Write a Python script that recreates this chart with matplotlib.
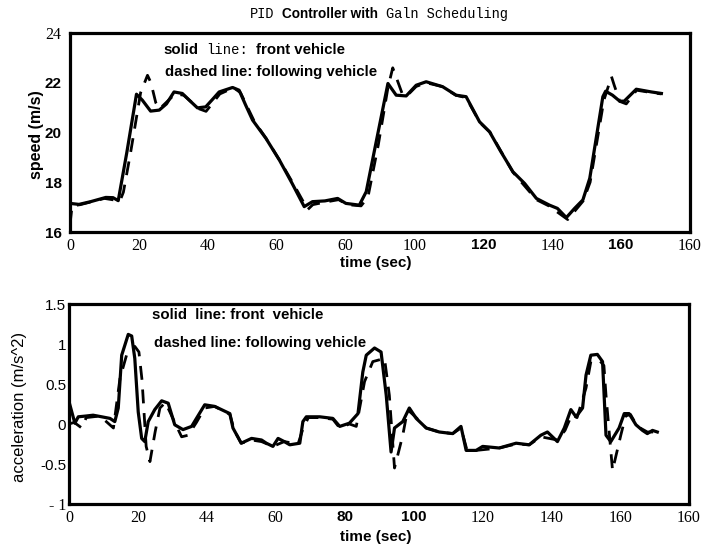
import matplotlib
matplotlib.use("Agg")
import matplotlib.pyplot as plt

# speed, front vehicle (solid)
t_front = [0, 2.6, 6, 10.4, 12.5, 14.0, 16.5, 19.3, 21, 23.4,
           25.9, 28, 30.2, 32.6, 35, 37.0, 39.4, 41.5, 43.3, 47.2,
           49.1, 51, 53.0, 56.9, 60.8, 64.5, 68.0, 70.4, 74, 77.7,
           80.1, 84.0, 86.0, 88.9, 92.3, 94.7, 97.6, 100.5, 103.4, 108.2,
           112.1, 115.0, 118.9, 121.8, 125, 128.6, 132, 135.4, 139.2, 141.5,
           144.1, 146.5, 148.9, 150.9, 154.7, 155.5, 157.5, 159.6, 160.9, 164.4,
           168.8, 171.7]
v_front = [17.15, 17.11, 17.22, 17.39, 17.38, 17.26, 19.2, 21.54, 21.3, 20.86,
           20.9, 21.15, 21.63, 21.57, 21.25, 20.99, 21.03, 21.35, 21.63, 21.81,
           21.70, 21.1, 20.50, 19.76, 18.89, 17.95, 17.02, 17.22, 17.25, 17.35,
           17.15, 17.08, 17.62, 19.63, 21.97, 21.5, 21.47, 21.90, 22.04, 21.84,
           21.50, 21.44, 20.43, 20.03, 19.25, 18.42, 17.95, 17.35, 17.08, 16.95,
           16.58, 16.95, 17.29, 18.16, 21.44, 21.66, 21.5, 21.26, 21.26, 21.74,
           21.63, 21.57]

# speed, following vehicle (dashed)
t_follow = [0, 0.6, 3, 10, 14.5, 15.5, 17.6, 20.5, 22.5, 23.5,
            24.9, 26, 30.5, 33, 37.5, 39.5, 43.5, 47.5, 49.5, 53.5,
            57, 61, 65, 69, 70.5, 74, 78, 80.5, 84.5, 86.5,
            89.5, 92.3, 93.7, 94.5, 96.6, 98, 100.5, 103.4, 108, 112,
            115, 119, 122, 128.6, 135.4, 139, 144.5, 149, 151, 155,
            157.2, 158, 159.6, 161.5, 164.5, 169, 171.7]
v_follow = [16.3, 17.05, 17.1, 17.35, 17.25, 17.6, 19.2, 21.6, 22.3, 22.0,
            21.2, 20.95, 21.55, 21.5, 20.95, 20.85, 21.55, 21.8, 21.6, 20.45,
            19.75, 18.85, 17.9, 16.9, 17.1, 17.2, 17.3, 17.1, 17.05, 17.4,
            19.5, 21.8, 22.6, 22.3, 21.5, 21.5, 21.85, 22.0, 21.85, 21.5,
            21.4, 20.4, 20.0, 18.4, 17.3, 17.05, 16.5, 17.25, 18.0, 21.3,
            22.25, 21.9, 21.25, 21.15, 21.7, 21.6, 21.55]

# acceleration, front vehicle (solid)
t_acc = [0, 1.7, 2.7, 5, 7.0, 9.5, 11.9, 13.3, 14.3, 15.3,
         17.2, 18.2, 19.1, 20.1, 21.1, 22.0, 23.0, 24.9, 26.9, 28.8,
         30.7, 33.1, 35.6, 37.0, 39.4, 42.3, 46.7, 47.6, 50.0, 53.0,
         55.9, 57.3, 59.2, 60.7, 62.5, 64.1, 67.0, 67.9, 68.9, 72.8,
         76.6, 78.6, 81.4, 83.9, 85.3, 86.3, 88.7, 90.6, 92.1, 93.5,
         94.5, 96.9, 98.8, 100.8, 103.7, 107.5, 111.4, 113.8, 115.3, 118.2,
         120.1, 124.9, 129.8, 133.6, 137.0, 138.9, 141.8, 143.8, 145.7, 147.2,
         149.1, 150.1, 151.5, 153.4, 154.9, 155.9, 157.3, 159.7, 161.2, 162.6,
         164.6, 166.5, 167.9, 169.4, 170.8]
a_front = [0.28, 0.01, 0.09, 0.10, 0.11, 0.09, 0.07, 0.03, 0.20, 0.86,
           1.12, 1.10, 0.82, 0.15, -0.18, -0.22, 0.03, 0.18, 0.29, 0.26,
           -0.01, -0.07, -0.03, 0.07, 0.24, 0.22, 0.13, -0.05, -0.24, -0.18,
           -0.20, -0.24, -0.28, -0.18, -0.22, -0.26, -0.24, 0.03, 0.09, 0.09,
           0.07, -0.03, 0.01, 0.13, 0.65, 0.86, 0.95, 0.90, 0.36, -0.35,
           -0.05, 0.03, 0.20, 0.07, -0.05, -0.10, -0.12, -0.03, -0.33, -0.33,
           -0.28, -0.30, -0.24, -0.26, -0.14, -0.10, -0.22, -0.05, 0.18, 0.09,
           0.20, 0.61, 0.86, 0.87, 0.78, -0.14, -0.22, -0.05, 0.13, 0.13,
           -0.01, -0.08, -0.12, -0.08, -0.10]

# acceleration, following vehicle (dashed)
t_acc_f = [0, 1.5, 3.7, 5, 9, 12.9, 14.8, 16.7, 19.1, 20.3,
           21.2, 22.4, 23.5, 25.0, 26.4, 28.0, 30.7, 32.7, 34.6, 37.0,
           39.4, 42.3, 46.7, 48, 50.0, 53.0, 55.9, 59.2, 62.5, 66.5,
           68.0, 69.5, 72.8, 76.6, 78.6, 81.4, 83.4, 85.8, 88.2, 91.6,
           93.0, 94.5, 96.9, 98.3, 100.8, 103.7, 107.5, 111.4, 113.8, 115.5,
           118.2, 124.9, 129.8, 133.6, 137.0, 141.8, 144.0, 146.0, 147.5, 150.1,
           151.5, 153.9, 155.3, 155.9, 157.8, 160.2, 161.6, 163, 165, 167.9,
           170.8]
a_follow = [0.0, 0.02, -0.05, 0.08, 0.1, -0.05, 0.57, 0.86, 0.97, 0.90,
            0.55, -0.28, -0.47, -0.10, 0.20, 0.27, 0.02, -0.16, -0.14, 0.02,
            0.20, 0.22, 0.12, -0.08, -0.24, -0.2, -0.22, -0.28, -0.22, -0.25,
            -0.05, 0.08, 0.08, 0.06, -0.05, 0.0, -0.03, 0.53, 0.78, 0.82,
            0.36, -0.55, -0.14, 0.18, 0.08, -0.05, -0.1, -0.12, -0.05, -0.32,
            -0.33, -0.3, -0.25, -0.26, -0.16, -0.2, -0.08, 0.12, 0.08, 0.45,
            0.78, 0.80, 0.73, 0.36, -0.58, -0.14, 0.10, 0.12, -0.03, -0.1,
            -0.1]

x_ticks = [0, 20, 40, 60, 80, 100, 120, 140, 160, 180]
top_xlabels = ['0', '20', '40', '60', '60', '100', '120', '140', '160', '160']
bot_xlabels = ['0', '20', '44', '60', '80', '100', '120', '140', '160', '160']
top_yticks = [16, 18, 20, 22, 24]
bot_yticks = [-1, -0.5, 0, 0.5, 1, 1.5]
bot_ylabels = ['- 1', '-0.5', '0', '0.5', '1', '1.5']

SANS = dict(family='Liberation Sans', weight='bold')
SERIF = dict(family='Liberation Serif')
MONO = dict(family='Liberation Mono')

W, H = 704, 550
fig = plt.figure(figsize=(W / 100, H / 100), dpi=100)

ax1 = fig.add_axes([70 / W, 1 - 232 / H, 620 / W, 199 / H])
ax2 = fig.add_axes([69 / W, 1 - 504 / H, 620 / W, 200 / H])

ax1.plot(t_front, v_front, color='black', lw=2.3, solid_joinstyle='round')
ax1.plot(t_follow, v_follow, color='black', lw=2.0, dashes=(5, 3.5))
ax2.plot(t_acc, a_front, color='black', lw=2.3, solid_joinstyle='round')
ax2.plot(t_acc_f, a_follow, color='black', lw=2.0, dashes=(5, 3.5))

ax1.set_xlim(0, 180)
ax1.set_ylim(16, 24)
ax2.set_xlim(0, 180)
ax2.set_ylim(-1, 1.5)

for ax in (ax1, ax2):
    for sp in ax.spines.values():
        sp.set_linewidth(2.3)
    ax.tick_params(length=0, pad=4)
    ax.set_xticks(x_ticks)

ax1.set_xticklabels(top_xlabels)
ax1.set_yticks(top_yticks)
ax1.set_yticklabels([str(v) for v in top_yticks])
ax2.set_xticklabels(bot_xlabels)
ax2.set_yticks(bot_yticks)
ax2.set_yticklabels(bot_ylabels)
ax1.tick_params(axis='y', pad=6)
ax2.tick_params(axis='y', pad=2)

# scanned figure uses mixed fonts on the tick labels
for i, lab in enumerate(ax1.get_xticklabels()):
    if i in (6, 8):
        lab.set_fontproperties(dict(SANS, size=11))
    else:
        lab.set_fontproperties(dict(SERIF, size=11.5))
for i, lab in enumerate(ax1.get_yticklabels()):
    if i == 4:
        lab.set_fontproperties(dict(SERIF, size=11.5))
    else:
        lab.set_fontproperties(dict(SANS, size=11))
for i, lab in enumerate(ax2.get_xticklabels()):
    if i in (4, 5):
        lab.set_fontproperties(dict(SANS, size=11))
    else:
        lab.set_fontproperties(dict(SERIF, size=11.5))
for i, lab in enumerate(ax2.get_yticklabels()):
    if i == 0:
        lab.set_fontproperties(dict(SERIF, size=11.5))
    else:
        lab.set_fontproperties(dict(family='Liberation Sans', size=11))

renderer = fig.canvas.get_renderer()


def mixed_text(x, y, parts, gap=4):
    # place text pieces one after another, x/y in pixels from top-left
    px = x
    for s, style in parts:
        t = fig.text(px / W, 1 - y / H, s, va='center', ha='left', **style)
        px = t.get_window_extent(renderer).x1 + gap


mixed_text(250, 14, [('PID', dict(MONO, size=9.8)),
                     ('Controller with', dict(SANS, size=9.8)),
                     ('Galn Scheduling', dict(MONO, size=9.8))], gap=8)

mixed_text(163, 50, [('solid', dict(SANS, size=10.8)),
                     ('line:', dict(MONO, size=10)),
                     ('front vehicle', dict(SANS, size=10.8))], gap=8)
mixed_text(165, 72, [('dashed line: following vehicle', dict(SANS, size=10.8))])
mixed_text(152, 315, [('solid  line: front  vehicle', dict(SANS, size=10.8))])
mixed_text(154, 343, [('dashed line: following vehicle', dict(SANS, size=10.8))])

fig.text(376 / W, 1 - 263 / H, 'time (sec)', ha='center', va='center', **SANS, size=11)
fig.text(376 / W, 1 - 537 / H, 'time (sec)', ha='center', va='center', **SANS, size=11)
fig.text(36 / W, 1 - 135 / H, 'speed (m/s)', ha='center', va='center',
         rotation=90, **SANS, size=11.5)
fig.text(20 / W, 1 - 407 / H, 'acceleration (m/s^2)', ha='center', va='center',
         rotation=90, family='Liberation Sans', size=12)

fig.savefig('out.png', dpi=100)
